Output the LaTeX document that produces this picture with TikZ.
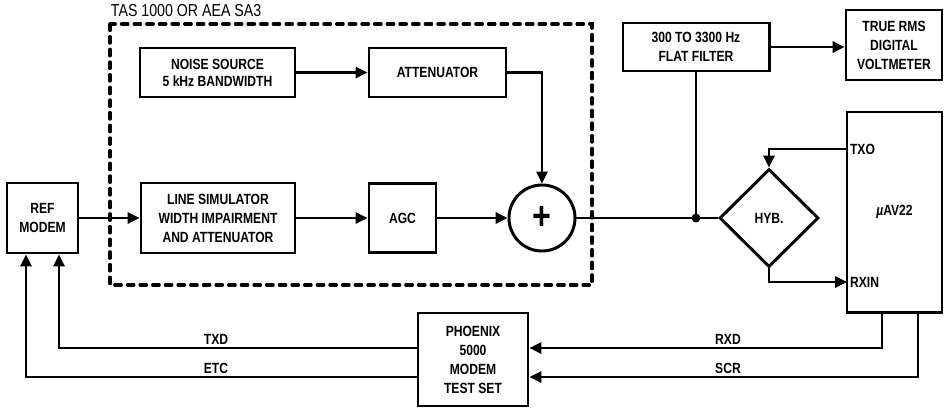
\documentclass[tikz,border=0pt]{standalone}
\usepackage{fontspec}
\newfontfamily\blockfont[FakeStretch=0.82]{Liberation Sans}
\usetikzlibrary{arrows.meta,shapes.geometric}

\begin{document}
\begin{tikzpicture}[x=0.025cm,y=-0.025cm,
    font=\blockfont\bfseries\fontsize{10.5}{13.5}\selectfont,
    blk/.style={draw,line width=2.1pt,align=center,inner sep=0pt},
    wire/.style={line width=1.7pt},
    arr/.style={wire,-{Triangle[length=8.5pt,width=8pt]}}]
    \useasboundingbox (0,0) rectangle (949,410);
    % test set frame
    \draw[line width=2.3pt,line cap=round,dash pattern=on 4.6pt off 4.4pt] (110,24) rectangle (592,285);
    \node[anchor=south west,font=\blockfont\fontsize{12.3}{14}\selectfont] (tas) at (106,22) {TAS 1000 OR AEA SA3};
    % blocks
    \node[blk,minimum width=1.775cm,minimum height=1.75cm] (ref) at (42.5,218) {REF\\MODEM};
    \node[blk,minimum width=3.875cm,minimum height=1.225cm,font=\blockfont\bfseries\fontsize{10.5}{12}\selectfont] (noise) at (217.5,72.5) {NOISE SOURCE\\5 kHz BANDWIDTH};
    \node[blk,minimum width=3.425cm,minimum height=1.225cm] (atten) at (437.5,72.5) {ATTENUATOR};
    \node[blk,minimum width=3.85cm,minimum height=1.75cm] (linesim) at (218,218) {LINE SIMULATOR\\WIDTH IMPAIRMENT\\AND ATTENUATOR};
    \node[blk,minimum width=1.675cm,minimum height=1.725cm] (agc) at (402.5,218) {AGC};
    \node[blk,circle,minimum size=1.65cm,font=\blockfont\bfseries\fontsize{28}{28}\selectfont] (sum) at (542,218) {+};
    \node[blk,minimum width=3.65cm,minimum height=1.2cm] (filter) at (696,47) {300 TO 3300 Hz\\FLAT FILTER};
    \node[blk,minimum width=2.4cm,minimum height=1.75cm] (rms) at (894,45) {TRUE RMS\\DIGITAL\\VOLTMETER};
    \node[blk,diamond,aspect=1,minimum width=2.475cm,minimum height=2.45cm] (hyb) at (769,218) {HYB.};
    \node[blk,minimum width=2.375cm,minimum height=5cm] (uav) at (894.5,212) {{\itshape µ}AV22};
    \node[blk,minimum width=2.75cm,minimum height=2.325cm] (phoenix) at (473,359.5) {PHOENIX\\5000\\MODEM\\TEST SET};
    % junctions and taps
    \coordinate (jn) at (696,218);
    \coordinate (txo) at (847,149);
    \coordinate (rxin) at (847,282);
    % signal path
    \draw[arr] (ref.east) -- (linesim.west);
    \draw[arr] (linesim.east) -- (agc.west);
    \draw[arr] (agc.east) -- (sum.west);
    \draw[arr] (noise.east) -- (atten.west);
    \draw[arr] (atten.east) -| (sum.north);
    \draw[wire] (sum.east) -- (hyb.west);
    \draw[wire] (filter.south) -- (jn);
    \fill (jn) circle (3.2pt);
    \draw[arr] (filter.east) -- (filter.east -| rms.west);
    \draw[arr] (txo) -| (hyb.north);
    \draw[arr] (hyb.south) |- (rxin);
    \node[anchor=west,inner sep=2pt] (txolbl) at (txo) {TXO};
    \node[anchor=west,inner sep=2pt] (rxinlbl) at (rxin) {RXIN};
    % data lines to and from the test set
    \draw[arr] ([xshift=-0.3125cm]uav.south) |- ([yshift=0.2875cm]phoenix.east);
    \draw[arr] ([xshift=0.5875cm]uav.south) |- ([yshift=-0.4375cm]phoenix.east);
    \draw[arr] ([yshift=0.2875cm]phoenix.west) -| ([xshift=0.4125cm]ref.south);
    \draw[arr] ([yshift=-0.4375cm]phoenix.west) -| ([xshift=-0.4125cm]ref.south);
    \node (txd) at (216,339) {TXD};
    \node (etc) at (216,368) {ETC};
    \node (rxd) at (728,339) {RXD};
    \node (scr) at (728,368) {SCR};
\end{tikzpicture}
\end{document}
